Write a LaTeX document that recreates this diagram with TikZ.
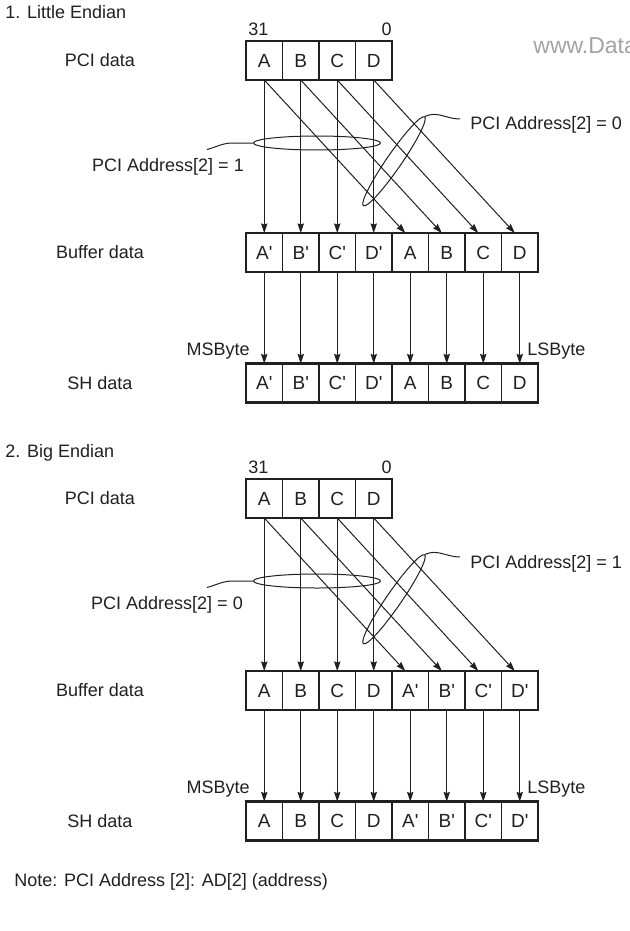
\documentclass[tikz,border=0pt]{standalone}
\usepackage{fontspec}
\setmainfont{Liberation Sans}
\usepackage{tikz}
\usetikzlibrary{arrows.meta,positioning,shapes.geometric,calc}
\definecolor{ink}{HTML}{231F20}
\definecolor{wmark}{HTML}{A3A3A3}
\tikzset{
  cell/.style={rectangle, draw=ink, line width=0.9pt, minimum width=18.25pt,
               minimum height=19.5pt, inner sep=0pt, outer sep=0pt,
               font=\fontsize{9.5}{11}\selectfont, text=ink},
  rim/.style={draw=ink, line width=1.3pt},
  lbl/.style={font=\fontsize{9}{11}\selectfont, text=ink, inner sep=0pt},
  fl/.style={-{Stealth[length=4.8pt,width=3.2pt,inset=0.6pt]}, draw=ink, line width=0.5pt},
  ring/.style={ellipse, draw=ink, line width=0.5pt, inner sep=0pt},
  lead/.style={draw=ink, line width=0.5pt}
}
\newcommand{\prm}[1]{#1\textquotesingle}

\begin{document}
\begin{tikzpicture}[x=0.5pt, y=-0.5pt]
  \useasboundingbox (0,0) rectangle (629,931);

  % 1. little endian
  \node[lbl, anchor=west] (t1) at (5,12) {1. Little Endian};
  \node[lbl] (pci1) at (100,60) {PCI data};
  \node[lbl] (buf1) at (100,252) {Buffer data};
  \node[lbl] (sh1) at (100,383) {SH data};
  \foreach \t [count=\i] in {A,B,C,D}
     \node[cell] (lp\i) at (227.75+36.5*\i,60.5) {\t};
  \foreach \t [count=\i] in {\prm A,\prm B,\prm C,\prm D,A,B,C,D} {
     \node[cell] (lb\i) at (227.75+36.5*\i,252.5) {\t};
     \node[cell] (ls\i) at (227.75+36.5*\i,383) {\t};
  }
  \draw[rim] (lp1.north west) rectangle (lp4.south east);
  \draw[rim] (lb1.north west) rectangle (lb8.south east);
  \draw[rim] (ls1.north west) rectangle (ls8.south east);
  \node[lbl, anchor=south west] (hi1) at ([xshift=1pt,yshift=2.5pt]lp1.north west) {31};
  \node[lbl, anchor=south east] (lo1) at ([yshift=2.5pt]lp4.north east) {0};
  \node[lbl, anchor=east] (msb1) at ([xshift=2pt,yshift=6pt]ls1.north west) {MSByte};
  \node[lbl, anchor=west] (lsb1) at ([xshift=-5.5pt,yshift=6pt]ls8.north east) {LSByte};

  \foreach \i in {1,...,4} {
     \pgfmathtruncatemacro\j{\i+4}
     \draw[fl] (lp\i.south) -- (lb\i.north);
     \draw[fl] (lp\i.south) -- ([xshift=-2.5pt]lb\j.north);
  }
  \foreach \i in {1,...,8}
     \draw[fl] (lb\i.south) -- (ls\i.north);

  \node[ring, minimum width=63.5pt, minimum height=7pt] (sel1a) at (317,143) {};
  \node[ring, minimum width=54pt, minimum height=7.5pt, rotate=55.4] (sel1b) at (394,161.3) {};
  \node[lbl] (addr1a) at (168,167) {PCI Address[2] = 1};
  \node[lbl, anchor=west] (addr1b) at (470,125) {PCI Address[2] = 0};
  \coordinate (tip1a) at (207,149.5);
  \coordinate (tip1b) at (460,119);
  \draw[lead] (sel1a.west) -- ++(-20,0) to[out=180,in=15] (tip1a);
  \draw[lead] (sel1b.east) to[out=25,in=180] (tip1b);

  % 2. big endian
  \node[lbl, anchor=west] (t2) at (5,453) {2. Big Endian};
  \node[lbl] (pci2) at (100,498) {PCI data};
  \node[lbl] (buf2) at (100,690) {Buffer data};
  \node[lbl] (sh2) at (100,821) {SH data};
  \foreach \t [count=\i] in {A,B,C,D}
     \node[cell] (bp\i) at (227.75+36.5*\i,498.5) {\t};
  \foreach \t [count=\i] in {A,B,C,D,\prm A,\prm B,\prm C,\prm D} {
     \node[cell] (bb\i) at (227.75+36.5*\i,690.5) {\t};
     \node[cell] (bs\i) at (227.75+36.5*\i,821) {\t};
  }
  \draw[rim] (bp1.north west) rectangle (bp4.south east);
  \draw[rim] (bb1.north west) rectangle (bb8.south east);
  \draw[rim] (bs1.north west) rectangle (bs8.south east);
  \node[lbl, anchor=south west] (hi2) at ([xshift=1pt,yshift=2.5pt]bp1.north west) {31};
  \node[lbl, anchor=south east] (lo2) at ([yshift=2.5pt]bp4.north east) {0};
  \node[lbl, anchor=east] (msb2) at ([xshift=2pt,yshift=6pt]bs1.north west) {MSByte};
  \node[lbl, anchor=west] (lsb2) at ([xshift=-5.5pt,yshift=6pt]bs8.north east) {LSByte};

  \foreach \i in {1,...,4} {
     \pgfmathtruncatemacro\j{\i+4}
     \draw[fl] (bp\i.south) -- (bb\i.north);
     \draw[fl] (bp\i.south) -- ([xshift=-2.5pt]bb\j.north);
  }
  \foreach \i in {1,...,8}
     \draw[fl] (bb\i.south) -- (bs\i.north);

  \node[ring, minimum width=63.5pt, minimum height=7pt] (sel2a) at (317,581) {};
  \node[ring, minimum width=54pt, minimum height=7.5pt, rotate=55.4] (sel2b) at (394,599.3) {};
  \node[lbl] (addr2a) at (167,605) {PCI Address[2] = 0};
  \node[lbl, anchor=west] (addr2b) at (470,564) {PCI Address[2] = 1};
  \coordinate (tip2a) at (207,587.5);
  \coordinate (tip2b) at (460,557);
  \draw[lead] (sel2a.west) -- ++(-20,0) to[out=180,in=15] (tip2a);
  \draw[lead] (sel2b.east) to[out=25,in=180] (tip2b);

  \node[lbl, anchor=west] (note) at (14,882) {Note: PCI Address [2]: AD[2] (address)};
  \node[lbl, anchor=west, text=wmark, font=\fontsize{11.5}{13}\selectfont] (wm) at (533,46) {www.Data};
\end{tikzpicture}
\end{document}
